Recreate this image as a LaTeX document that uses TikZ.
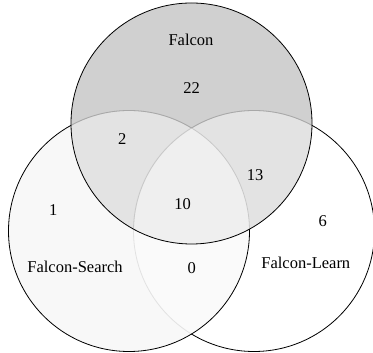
\documentclass[tikz,border=0pt]{standalone}
\usepackage{fontspec}
\setmainfont{Liberation Serif}
\definecolor{topfill}{HTML}{D0D0D0}
\definecolor{leftfill}{HTML}{F8F8F8}
\definecolor{lrfill}{HTML}{FAFAFA}
\definecolor{tlfill}{HTML}{E3E3E3}
\definecolor{trfill}{HTML}{E3E3E3}
\definecolor{allfill}{HTML}{EFEFEF}
\definecolor{arcdark}{HTML}{A8A8A8}
\definecolor{arcmid}{HTML}{C8C8C8}
\definecolor{arclight}{HTML}{E2E2E2}
\begin{document}
\begin{tikzpicture}[x=1pt,y=1pt,
  lbl/.style={inner sep=0pt, font=\fontsize{16.5}{19}\selectfont},
  rim/.style={line width=0.8pt}]
\useasboundingbox (0,0) rectangle (373,353);
\def\R{120.5pt}
\coordinate (T) at (191.5,229.5);
\coordinate (L) at (129,122);
\coordinate (Rc) at (254,122);
\def\bbox{(-20,-20) rectangle (393,373)}
% fills
\fill[white] (Rc) circle[radius=\R];
\fill[leftfill] (L) circle[radius=\R];
\begin{scope}\clip (L) circle[radius=\R]; \fill[lrfill] (Rc) circle[radius=\R];\end{scope}
\fill[topfill] (T) circle[radius=\R];
\begin{scope}\clip (T) circle[radius=\R]; \fill[tlfill] (L) circle[radius=\R];\end{scope}
\begin{scope}\clip (T) circle[radius=\R]; \fill[trfill] (Rc) circle[radius=\R];\end{scope}
\begin{scope}\clip (T) circle[radius=\R]; \clip (L) circle[radius=\R]; \fill[allfill] (Rc) circle[radius=\R];\end{scope}
% inner arcs
\begin{scope}\clip (L) circle[radius=\R]; \draw[rim,arclight] (Rc) circle[radius=\R];\end{scope}
\begin{scope}\clip (T) circle[radius=\R];
  \draw[rim,arcmid] (L) circle[radius=\R];
  \draw[rim,arcmid] (Rc) circle[radius=\R];
\end{scope}
\begin{scope}[even odd rule]\clip (T) circle[radius=\R];
  \clip \bbox (Rc) circle[radius=\R];
  \draw[rim,arcdark] (L) circle[radius=\R];
\end{scope}
\begin{scope}[even odd rule]\clip (T) circle[radius=\R];
  \clip \bbox (L) circle[radius=\R];
  \draw[rim,arcdark] (Rc) circle[radius=\R];
\end{scope}
% outer black rims
\begin{scope}[even odd rule]\clip \bbox (T) circle[radius=\R];
  \draw[rim,black] (L) circle[radius=\R];
  \clip \bbox (L) circle[radius=\R];
  \draw[rim,black] (Rc) circle[radius=\R];
\end{scope}
\draw[rim,black] (T) circle[radius=\R];
% labels
\node[lbl] (falcon) at (191,313) {Falcon};
\node[lbl] (n22) at (191.7,264.7) {22};
\node[lbl] (n2) at (122.3,214) {2};
\node[lbl] (n13) at (255,178) {13};
\node[lbl] (n10) at (182.7,149) {10};
\node[lbl] (n1) at (53.3,143) {1};
\node[lbl] (n6) at (322.7,132.3) {6};
\node[lbl] (search) at (75,86.3) {Falcon-Search};
\node[lbl] (n0) at (191.7,84.7) {0};
\node[lbl] (learn) at (305.8,89.7) {Falcon-Learn};
\end{tikzpicture}
\end{document}
